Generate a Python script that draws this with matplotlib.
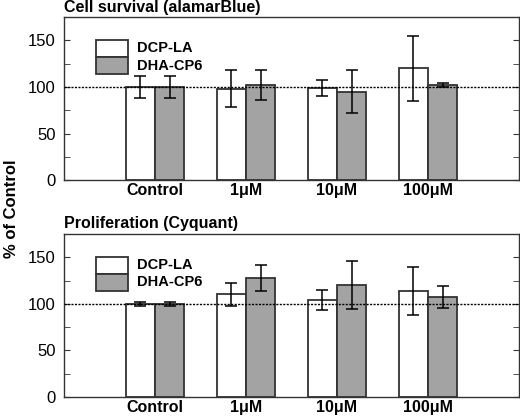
import numpy as np
import matplotlib
matplotlib.use("Agg")
import matplotlib.pyplot as plt
from matplotlib.patches import Rectangle
from matplotlib.ticker import MultipleLocator

plt.rcParams['font.family'] = ['Liberation Sans', 'DejaVu Sans']

groups = ['Control', '1\u03bcM', '10\u03bcM', '100\u03bcM']
series = ['DCP-LA', 'DHA-CP6']

# cell survival (alamarBlue)
surv_dcp = [100, 98, 99, 120]
surv_dcp_err = [12, 20, 9, 35]
surv_dha = [100, 102, 95, 102]
surv_dha_err = [12, 16, 23, 2]

# proliferation (Cyquant)
prol_dcp = [100, 110, 104, 114]
prol_dcp_err = [2, 12, 11, 26]
prol_dha = [100, 128, 120, 107]
prol_dha_err = [2, 14, 26, 12]

fig = plt.figure(figsize=(5.2, 4.17), dpi=100)
ax1 = fig.add_axes([0.123, 0.568, 0.875, 0.391])
ax2 = fig.add_axes([0.123, 0.048, 0.875, 0.391])

x = np.arange(len(groups))
w = 0.32
edge = '#333333'


def panel(ax, title, a, a_err, b, b_err):
    ax.bar(x - w / 2, a, w, color='white', edgecolor=edge, linewidth=1.3, zorder=2)
    ax.bar(x + w / 2, b, w, color='#a3a3a3', edgecolor=edge, linewidth=1.3, zorder=2)
    ax.errorbar(x - w / 2, a, yerr=a_err, fmt='none', ecolor='black',
                elinewidth=1.1, capsize=4, capthick=1.1, zorder=3)
    ax.errorbar(x + w / 2, b, yerr=b_err, fmt='none', ecolor='black',
                elinewidth=1.1, capsize=4, capthick=1.1, zorder=3)
    ax.axhline(100, color='black', linestyle=(0, (1.5, 1)), linewidth=1, zorder=4)
    ax.set_xlim(-1, 4)
    ax.set_ylim(0, 175)
    ax.yaxis.set_major_locator(MultipleLocator(50))
    ax.yaxis.set_minor_locator(MultipleLocator(25))
    ax.tick_params(axis='y', which='both', direction='in', right=True,
                   labelsize=12, length=4, color='#333333', pad=6)
    ax.tick_params(axis='x', length=0, pad=2)
    ax.set_xticks(x)
    ax.set_xticklabels(groups, fontsize=11.5, fontweight='bold')
    for s in ax.spines.values():
        s.set_color('#333333')
        s.set_linewidth(1)
    ax.text(0, 1.015, title, transform=ax.transAxes, fontsize=11.5,
            fontweight='bold', ha='left', va='bottom')
    # legend boxes
    bw, bh = 0.07, 0.105
    bx, by = 0.071, 0.86
    ax.add_patch(Rectangle((bx, by - bh), bw, bh, transform=ax.transAxes,
                           facecolor='white', edgecolor=edge, linewidth=1.3, zorder=5))
    ax.add_patch(Rectangle((bx, by - 2 * bh), bw, bh, transform=ax.transAxes,
                           facecolor='#a3a3a3', edgecolor=edge, linewidth=1.3, zorder=5))
    ax.text(bx + bw + 0.02, by - bh / 2, series[0], transform=ax.transAxes,
            fontsize=10.5, fontweight='bold', va='center')
    ax.text(bx + bw + 0.02, by - 1.5 * bh, series[1], transform=ax.transAxes,
            fontsize=10.5, fontweight='bold', va='center')


panel(ax1, 'Cell survival (alamarBlue)', surv_dcp, surv_dcp_err, surv_dha, surv_dha_err)
panel(ax2, 'Proliferation (Cyquant)', prol_dcp, prol_dcp_err, prol_dha, prol_dha_err)

fig.text(0.022, 0.5, '% of Control', rotation=90, fontsize=12,
         fontweight='bold', ha='center', va='center')

fig.savefig('out.png', dpi=100)
